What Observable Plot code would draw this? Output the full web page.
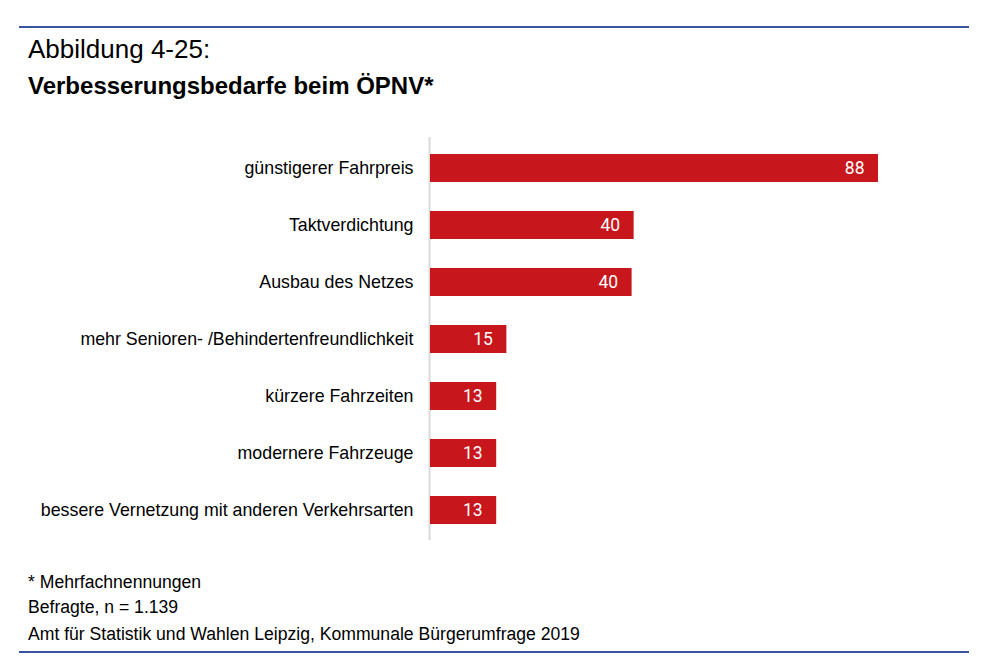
<!DOCTYPE html>
<html>
<head>
<meta charset="utf-8">
<script src="https://cdn.jsdelivr.net/npm/d3@7"></script>
<script src="https://cdn.jsdelivr.net/npm/@observablehq/plot@0.6"></script>
<style>
  body { margin: 0; background: #fff; width: 1000px; height: 669px; position: relative; overflow: hidden; font-family: "Liberation Sans", Arial, sans-serif; }
  .rule { position: absolute; left: 19px; width: 950px; height: 2px; background: #3a55a0; }
  .t { position: absolute; left: 28px; white-space: nowrap; color: #000; }
  #chart { position: absolute; left: 0; top: 128px; }
</style>
</head>
<body>
<div class="rule" style="top:26px"></div>
<div class="t" style="top:34px;font-size:26px;">Abbildung 4-25:</div>
<div class="t" style="top:72px;font-size:24px;font-weight:bold;">Verbesserungsbedarfe beim ÖPNV*</div>
<div id="chart"></div>
<div class="t" style="top:572px;font-size:17.6px;">* Mehrfachnennungen</div>
<div class="t" style="top:597px;font-size:17.6px;">Befragte, n = 1.139</div>
<div class="t" style="top:624px;font-size:17.6px;">Amt für Statistik und Wahlen Leipzig, Kommunale Bürgerumfrage 2019</div>
<div class="rule" style="top:651px"></div>
<script>
const categories = [
  "günstigerer Fahrpreis",
  "Taktverdichtung",
  "Ausbau des Netzes",
  "mehr Senioren- /Behindertenfreundlichkeit",
  "kürzere Fahrzeiten",
  "modernere Fahrzeuge",
  "bessere Vernetzung mit anderen Verkehrsarten"
];
const values = [88, 40, 39.6, 15, 13, 13, 13];
const data = categories.map((c, i) => ({category: c, value: values[i]}));

const chart = Plot.plot({
  width: 1000,
  height: 412,
  marginLeft: 430,
  marginRight: 122,
  marginTop: 9,
  marginBottom: 0,
  x: {domain: [0, 88], axis: null},
  y: {domain: categories, paddingInner: 0.51, paddingOuter: 0.26, label: null},
  style: {fontFamily: "'Liberation Sans', Arial, sans-serif", fontSize: "17.8px", color: "#000"},
  marks: [
    Plot.axisY({tickSize: 0, tickPadding: 17, fontSize: 17.8, label: null}),
    Plot.ruleX([0], {stroke: "#d9d9d9", strokeWidth: 2, dx: -1}),
    Plot.barX(data, {x: "value", y: "category", fill: "#c8161d"}),
    Plot.text(data, {x: "value", y: "category", text: d => String(Math.round(d.value)), fill: "#fff", textAnchor: "end", dx: -14, fontSize: 17.5, fontFamily: "Roboto, sans-serif"})
  ]
});
document.getElementById("chart").appendChild(chart);
</script>
</body>
</html>
